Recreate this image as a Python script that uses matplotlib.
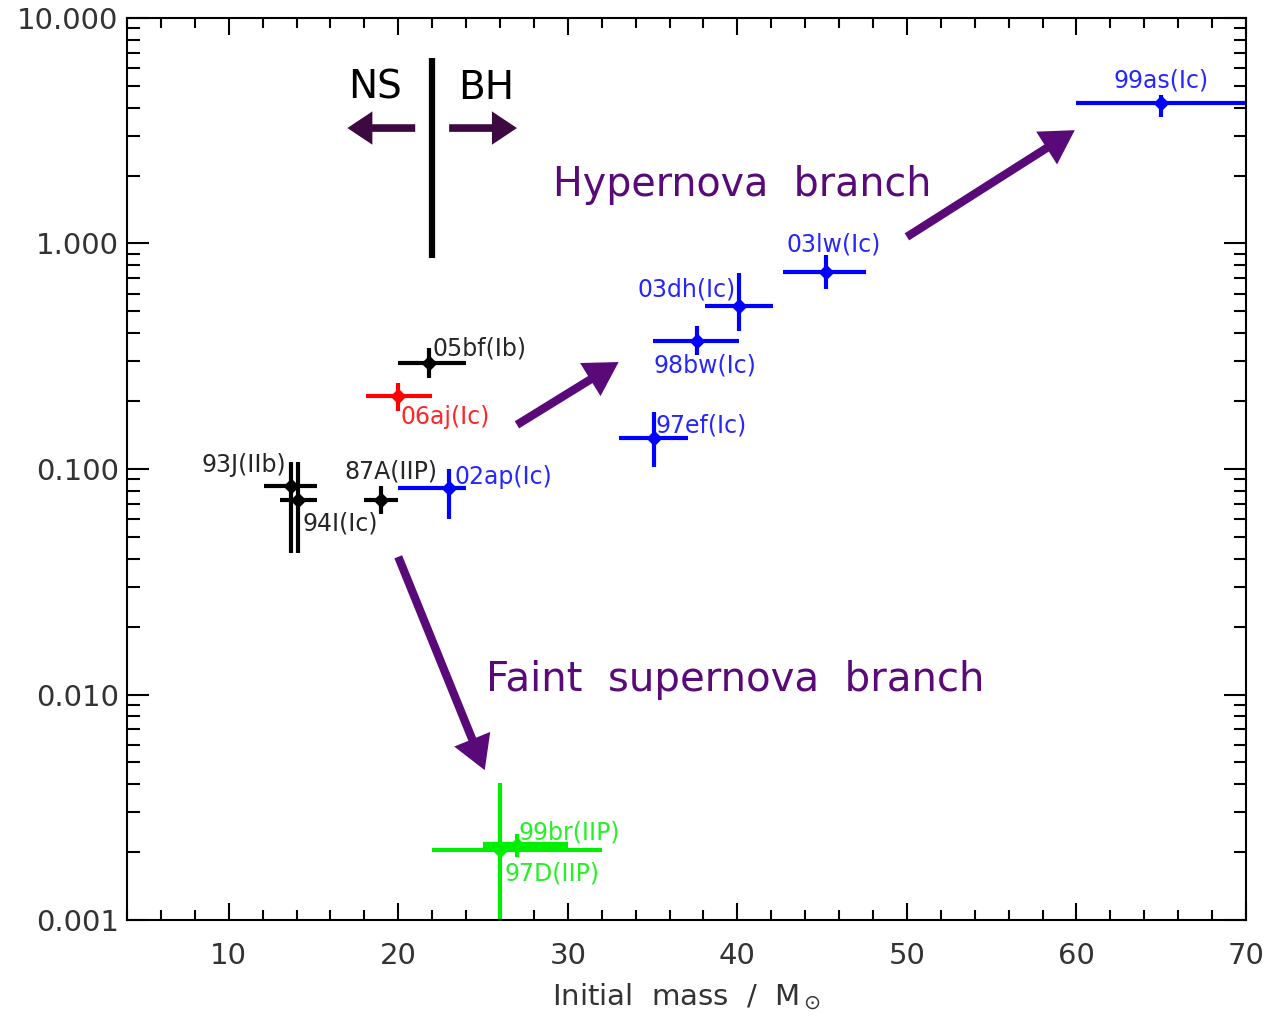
import numpy as np
import matplotlib
matplotlib.use("Agg")
import matplotlib.pyplot as plt
from matplotlib.ticker import FixedLocator, NullFormatter

# --- data: initial mass (Msun) vs ejected 56Ni mass (Msun) ---
names = ["99as(Ic)", "03lw(Ic)", "03dh(Ic)", "98bw(Ic)", "97ef(Ic)", "02ap(Ic)",
         "06aj(Ic)", "05bf(Ib)", "93J(IIb)", "94I(Ic)", "87A(IIP)", "97D(IIP)", "99br(IIP)"]
mass = [65, 45.2, 40.1, 37.6, 35.1, 23.0, 20.0, 21.8, 13.7, 14.1, 19.0, 26.0, 27.0]
mass_lo = [60, 42.7, 38.1, 35.0, 33.0, 20.0, 18.1, 20.0, 12.1, 13.0, 18.0, 22.0, 25.0]
mass_hi = [75, 47.6, 42.1, 40.1, 37.1, 24.0, 22.0, 24.0, 15.2, 15.2, 20.0, 32.0, 30.0]
ni = [4.2, 0.75, 0.53, 0.37, 0.137, 0.082, 0.21, 0.295, 0.084, 0.073, 0.073, 0.00204, 0.00215]
ni_lo = [3.64, 0.63, 0.41, 0.32, 0.102, 0.06, 0.18, 0.253, 0.0425, 0.0425, 0.063, 0.0005, 0.0019]
ni_hi = [4.55, 0.89, 0.74, 0.43, 0.179, 0.10, 0.24, 0.344, 0.107, 0.107, 0.084, 0.00406, 0.0024]
colors = ["#0000ff"] * 6 + ["#ff0000"] + ["#000000"] * 4 + ["#00ee00"] * 2

# label offsets in pixels and alignment
label_off = [(0, 22), (8, 27), (-3, 16), (8, -25), (1, 13), (5, 11), (2, -21),
             (4, 15), (-5, 21), (4, -24), (10, 28), (5, -23), (2, 13)]
label_ha = ["center", "center", "right", "center", "left", "left", "left",
            "left", "right", "left", "center", "left", "left"]

x_ticks = [10, 20, 30, 40, 50, 60, 70]
y_ticks = [0.001, 0.01, 0.1, 1.0, 10.0]
y_ticklabels = ["0.001", "0.010", "0.100", "1.000", "10.000"]

purple = "#5a0a78"
dark_purple = "#3c0a40"
gray = "#333333"

fig = plt.figure(figsize=(12.66, 10.21), dpi=100)
ax = fig.add_axes([0.1003, 0.0989, 0.8839, 0.8835])
ax.set_yscale("log")
ax.set_xlim(4, 70)
ax.set_ylim(0.001, 10)

for i in range(len(names)):
    c = colors[i]
    lw = 4.5 if names[i] == "99br(IIP)" else 3
    ax.plot([mass_lo[i], mass_hi[i]], [ni[i], ni[i]], color=c, lw=lw, solid_capstyle="butt")
    ax.plot([mass[i], mass[i]], [ni_lo[i], ni_hi[i]], color=c, lw=3, solid_capstyle="butt")
    ax.plot(mass[i], ni[i], marker="D", ms=7, color=c, mec=c)
    ax.annotate(names[i], (mass[i], ni[i]), xytext=label_off[i], textcoords="offset pixels",
                ha=label_ha[i], va="center", color=c, fontsize=17, alpha=0.85)

# NS / BH divider
ax.plot([22, 22], [0.86, 6.65], color="black", lw=4.5, solid_capstyle="butt")
arrow_kw = dict(arrowstyle="simple,head_length=1.8,head_width=2.4,tail_width=0.55",
                lw=0, color=dark_purple, mutation_scale=10, shrinkA=0, shrinkB=0)
ax.annotate("", xy=(17.0, 3.25), xytext=(21.0, 3.25), arrowprops=arrow_kw)
ax.annotate("", xy=(27.0, 3.25), xytext=(23.0, 3.25), arrowprops=arrow_kw)
ax.text(18.6, 4.9, "NS", fontsize=28, ha="center", va="center", color="black")
ax.text(25.2, 4.9, "BH", fontsize=28, ha="center", va="center", color="black")

# branch arrows
br_kw = dict(arrowstyle="simple,head_length=2.4,head_width=2.8,tail_width=0.6",
             lw=0, color=purple, mutation_scale=10, shrinkA=0, shrinkB=0)
ax.annotate("", xy=(59.9, 3.18), xytext=(50.0, 1.07), arrowprops=br_kw)
ax.annotate("", xy=(33.0, 0.298), xytext=(27.0, 0.157), arrowprops=br_kw)
ax.annotate("", xy=(25.1, 0.00462), xytext=(20.0, 0.0408), arrowprops=br_kw)
ax.text(40.27, 1.82, "Hypernova  branch", fontsize=28.5, ha="center", va="center", color=purple)
ax.text(39.85, 0.0116, "Faint  supernova  branch", fontsize=29, ha="center", va="center", color=purple)

# axes styling
ax.xaxis.set_major_locator(FixedLocator(x_ticks))
ax.xaxis.set_minor_locator(FixedLocator(np.arange(4, 71, 2)))
ax.set_xticklabels([str(t) for t in x_ticks])
ax.yaxis.set_major_locator(FixedLocator(y_ticks))
ax.set_yticklabels(y_ticklabels)
ax.yaxis.set_minor_formatter(NullFormatter())
ax.tick_params(which="both", direction="in", top=True, right=True, width=1.5,
               labelsize=21, labelcolor=gray)
ax.tick_params(axis="x", which="major", length=12, pad=16)
ax.tick_params(axis="x", which="minor", length=7)
ax.tick_params(axis="y", which="major", length=16, pad=6)
ax.tick_params(axis="y", which="minor", length=9)
for s in ax.spines.values():
    s.set_linewidth(1.5)
ax.set_xlabel(r"Initial  mass  /  M$_\odot$", fontsize=21, color=gray, labelpad=8)

fig.savefig("out.png", dpi=100)
